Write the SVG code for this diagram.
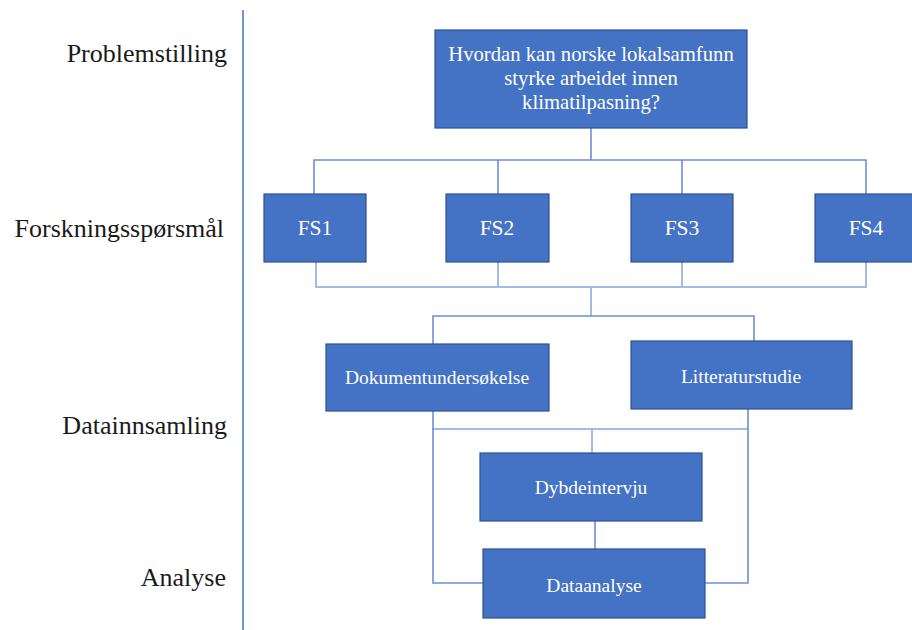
<svg xmlns="http://www.w3.org/2000/svg" width="912" height="630" viewBox="0 0 912 630">
  <style>
    .box { fill: #4472C4; stroke: #2F528F; stroke-width: 1.2; }
    .btxt { fill: #FFFFFF; text-anchor: middle; font-family: 'Liberation Serif', 'Times New Roman', serif; }
    .lbl { fill: #1A1A1A; font-size: 26px; text-anchor: end; font-family: 'Liberation Serif', 'Times New Roman', serif; }
    .wire { fill: none; stroke: #6C90D4; stroke-width: 1.6; }
    .wire-light { fill: none; stroke: #A3BCE6; stroke-width: 2; }
    .axis { stroke: #4472C4; stroke-width: 1.5; }
  </style>

  <rect width="912" height="630" fill="#FFFFFF"/>

  <!-- level labels -->
  <g id="levels">
    <text class="lbl" x="227" y="62">Problemstilling</text>
    <text class="lbl" x="224" y="237">Forskningsspørsmål</text>
    <text class="lbl" x="227" y="434">Datainnsamling</text>
    <text class="lbl" x="226" y="586">Analyse</text>
    <line class="axis" x1="243" y1="10" x2="243" y2="630"/>
  </g>

  <!-- connectors -->
  <g id="connectors">
    <polyline class="wire" points="591,128 591,160"/>
    <polyline class="wire" points="314,194 314,160 866,160 866,194"/>
    <line class="wire" x1="498" y1="160" x2="498" y2="194"/>
    <line class="wire" x1="682" y1="160" x2="682" y2="194"/>

    <polyline class="wire-light" points="316,262 316,287 866,287 866,262"/>
    <line class="wire-light" x1="498" y1="262" x2="498" y2="287"/>
    <line class="wire-light" x1="682" y1="262" x2="682" y2="287"/>
    <line class="wire-light" x1="591" y1="287" x2="591" y2="316"/>
    <polyline class="wire" points="433,344 433,316 754,316 754,341"/>

    <line class="wire-light" x1="433" y1="429" x2="748" y2="429"/>
    <line class="wire-light" x1="592" y1="429" x2="592" y2="453"/>
    <polyline class="wire" points="433,411 433,583 483,583"/>
    <polyline class="wire" points="748,409 748,583 705,583"/>
    <line class="wire" x1="595" y1="521" x2="595" y2="549"/>
  </g>

  <g id="problem">
    <rect class="box" x="435" y="30" width="312" height="98"/>
    <text class="btxt" font-size="20.7" x="591" y="61">Hvordan kan norske lokalsamfunn</text>
    <text class="btxt" font-size="20.7" x="591" y="85">styrke arbeidet innen</text>
    <text class="btxt" font-size="20.7" x="591" y="109">klimatilpasning?</text>
  </g>

  <g id="fs1">
    <rect class="box" x="264" y="194" width="102" height="68"/>
    <text class="btxt" font-size="21.5" x="315" y="235">FS1</text>
  </g>
  <g id="fs2">
    <rect class="box" x="446" y="194" width="103" height="68"/>
    <text class="btxt" font-size="21.5" x="497" y="235">FS2</text>
  </g>
  <g id="fs3">
    <rect class="box" x="631" y="194" width="102" height="68"/>
    <text class="btxt" font-size="21.5" x="682" y="235">FS3</text>
  </g>
  <g id="fs4">
    <rect class="box" x="815" y="194" width="102" height="68"/>
    <text class="btxt" font-size="21.5" x="866" y="235">FS4</text>
  </g>

  <g id="dokument">
    <rect class="box" x="326" y="344" width="223" height="67"/>
    <text class="btxt" font-size="19.5" x="437" y="384">Dokumentundersøkelse</text>
  </g>
  <g id="litteratur">
    <rect class="box" x="631" y="341" width="221" height="68"/>
    <text class="btxt" font-size="19.5" x="741" y="383">Litteraturstudie</text>
  </g>
  <g id="dybde">
    <rect class="box" x="480" y="453" width="222" height="68"/>
    <text class="btxt" font-size="19.5" x="591" y="494">Dybdeintervju</text>
  </g>
  <g id="dataanalyse">
    <rect class="box" x="483" y="549" width="222" height="69"/>
    <text class="btxt" font-size="19.5" x="594" y="592">Dataanalyse</text>
  </g>
</svg>
